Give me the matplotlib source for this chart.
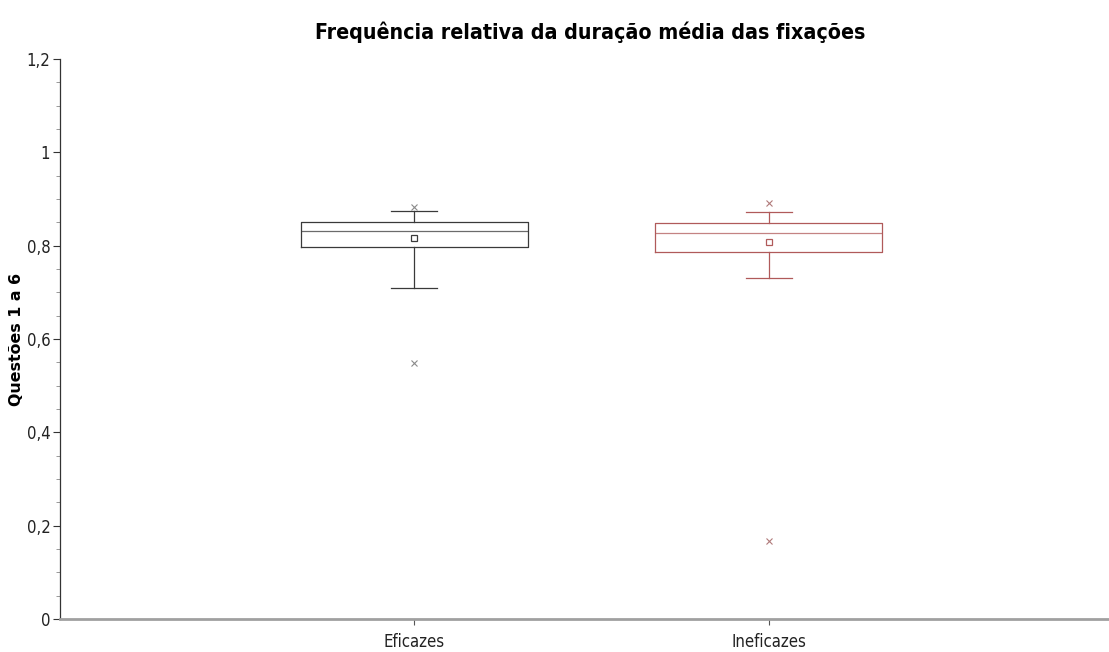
import matplotlib
matplotlib.use("Agg")
import matplotlib.pyplot as plt
from matplotlib.ticker import MultipleLocator, FuncFormatter


GROUPS = ["Eficazes", "Ineficazes"]
Q1 = [0.798, 0.786]
MEDIAN = [0.831, 0.828]
Q3 = [0.851, 0.849]
WHISKER_LOW = [0.709, 0.730]
WHISKER_HIGH = [0.874, 0.872]
MEANS = [0.817, 0.807]
OUTLIERS = [[0.549, 0.883], [0.167, 0.891]]

COLORS = ["#3a3a3a", "#b05a5a"]
FLIER_COLORS = ["#8a8a8a", "#b07a7a"]


def comma_fmt(v, _pos):
    if abs(v - round(v)) < 1e-9:
        return f"{int(round(v))}"
    return f"{v:.1f}".replace(".", ",")


fig = plt.figure(figsize=(11.09, 6.52), dpi=100)
ax = fig.add_axes([60 / 1109, 1 - 619 / 652, 1 - 60 / 1109, 560 / 652])

for i, name in enumerate(GROUPS):
    stats = [{
        "label": name,
        "q1": Q1[i],
        "med": MEDIAN[i],
        "q3": Q3[i],
        "whislo": WHISKER_LOW[i],
        "whishi": WHISKER_HIGH[i],
        "mean": MEANS[i],
        "fliers": OUTLIERS[i],
    }]
    c = COLORS[i]
    ax.bxp(
        stats,
        positions=[i + 1],
        widths=0.64,
        showmeans=True,
        boxprops=dict(color=c, linewidth=0.9),
        medianprops=dict(color=c, linewidth=0.9, alpha=0.75),
        whiskerprops=dict(color=c, linewidth=0.9),
        capprops=dict(color=c, linewidth=0.9),
        capwidths=0.13,
        meanprops=dict(marker="s", markerfacecolor="none", markeredgecolor=c,
                       markersize=4, markeredgewidth=0.9),
        flierprops=dict(marker="x", markeredgecolor=FLIER_COLORS[i],
                        markersize=4, markeredgewidth=0.8),
    )

ax.set_xlim(0.0, 2.96)
ax.set_ylim(0, 1.2)
ax.set_xticks([1, 2])
ax.set_xticklabels(GROUPS)
ax.yaxis.set_major_locator(MultipleLocator(0.2))
ax.yaxis.set_minor_locator(MultipleLocator(0.05))
ax.yaxis.set_major_formatter(FuncFormatter(comma_fmt))

for side in ["top", "right"]:
    ax.spines[side].set_visible(False)
ax.spines["left"].set_color("#333333")
ax.spines["left"].set_linewidth(0.9)
ax.spines["bottom"].set_color("#a0a0a0")
ax.spines["bottom"].set_linewidth(2)

ax.tick_params(axis="y", which="major", length=5, width=0.8, color="#333333",
               labelsize=12, pad=2)
ax.tick_params(axis="y", which="minor", length=3, width=0.6, color="#888888")
ax.tick_params(axis="x", length=4, width=0.8, color="#555555", labelsize=12, pad=6)
for lab in ax.get_xticklabels() + ax.get_yticklabels():
    lab.set_fontstretch("condensed")
    lab.set_color("#222222")

ax.set_ylabel("Questões 1 a 6", fontsize=11.4, fontweight="bold", labelpad=2)
fig.text(0.532, 0.95, "Frequência relativa da duração média das fixações",
         ha="center", va="center", fontsize=15.3, fontweight="bold",
         fontstretch="condensed")

fig.savefig("out.png", dpi=100)
